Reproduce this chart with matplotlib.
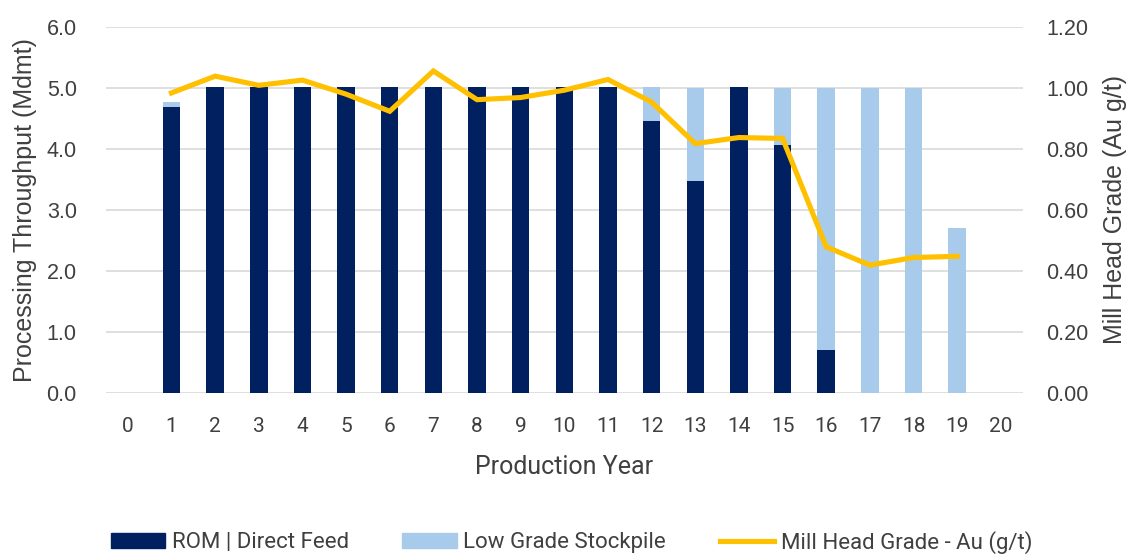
import matplotlib
matplotlib.use("Agg")
import matplotlib.pyplot as plt
import numpy as np
from matplotlib.lines import Line2D
from matplotlib.patches import Patch

years = list(range(0, 21))
rom = [0, 4.69, 5.02, 5.02, 5.02, 5.01, 5.02, 5.02, 5.01, 5.02, 5.01, 5.02, 4.46, 3.47, 5.02, 4.06, 0.71, 0, 0, 0, 0]
lgs = [0, 0.07, 0, 0, 0, 0, 0, 0, 0, 0, 0, 0, 0.55, 1.53, 0, 0.94, 4.29, 5.00, 5.00, 2.70, 0]
grade_years = list(range(1, 20))
grade = [0.983, 1.038, 1.008, 1.025, 0.979, 0.923, 1.055, 0.961, 0.968, 0.992, 1.027,
         0.953, 0.817, 0.837, 0.834, 0.479, 0.419, 0.444, 0.448]

navy = "#002060"
light = "#A9CBEB"
gold = "#FFC000"
textc = "#404040"

sans = ['Liberation Sans', 'DejaVu Sans']
narrow = ['Roboto', 'DejaVu Sans']
plt.rcParams['font.family'] = sans

fig = plt.figure(figsize=(11.35, 5.56), dpi=100)
ax = fig.add_axes([0.0934, 0.293, 0.8076, 0.659])
x = np.arange(len(years))
ax.bar(x, rom, width=0.4, color=navy, zorder=2)
ax.bar(x, lgs, width=0.4, bottom=rom, color=light, zorder=2)
ax.set_ylim(0, 6)
ax.set_xlim(-0.5, len(years) - 0.5)
ax.set_yticks(np.arange(0, 6.01, 1.0))
ax.set_yticklabels([f"{v:.1f}" for v in np.arange(0, 6.01, 1.0)], family=sans, fontsize=15.5)
ax.set_xticks(x)
ax.set_xticklabels([str(y) for y in years], family=narrow, fontsize=15)
ax.grid(axis='y', color='#D9D9D9', linewidth=1.2, zorder=0)
ax.set_axisbelow(True)
for s in ax.spines.values():
    s.set_visible(False)
ax.tick_params(axis='y', length=0, colors=textc, pad=21)
ax.tick_params(axis='x', length=0, colors=textc, pad=17)
ax.set_ylabel("Processing Throughput (Mdmt)", fontsize=18, color=textc, labelpad=7, family=sans)
ax.set_xlabel("Production Year", fontsize=18, color=textc, labelpad=14, family=narrow)

ax2 = ax.twinx()
ax2.plot(grade_years, grade, color=gold, linewidth=3.7, solid_joinstyle='miter', zorder=3)
ax2.set_ylim(0, 1.2)
ax2.set_yticks(np.arange(0, 1.201, 0.2))
ax2.set_yticklabels([f"{v:.2f}" for v in np.arange(0, 1.201, 0.2)], family=sans, fontsize=15.5)
for s in ax2.spines.values():
    s.set_visible(False)
ax2.tick_params(length=0, colors=textc, pad=17)
ax2.set_ylabel("Mill Head Grade (Au g/t)", fontsize=18, color=textc, labelpad=10, family=sans)

handles = [Patch(color=navy, label="ROM | Direct Feed"),
           Patch(color=light, label="Low Grade Stockpile"),
           Line2D([0], [0], color=gold, linewidth=3.7, label="Mill Head Grade - Au (g/t)")]
fig.legend(handles=handles, loc='center', bbox_to_anchor=(0.5035, 0.025), ncol=3, frameon=False,
           prop={'family': narrow, 'size': 16}, handlelength=2.45, handleheight=0.63,
           columnspacing=2.4, labelcolor=textc, handletextpad=0.3)

fig.savefig("out.png", dpi=100)
